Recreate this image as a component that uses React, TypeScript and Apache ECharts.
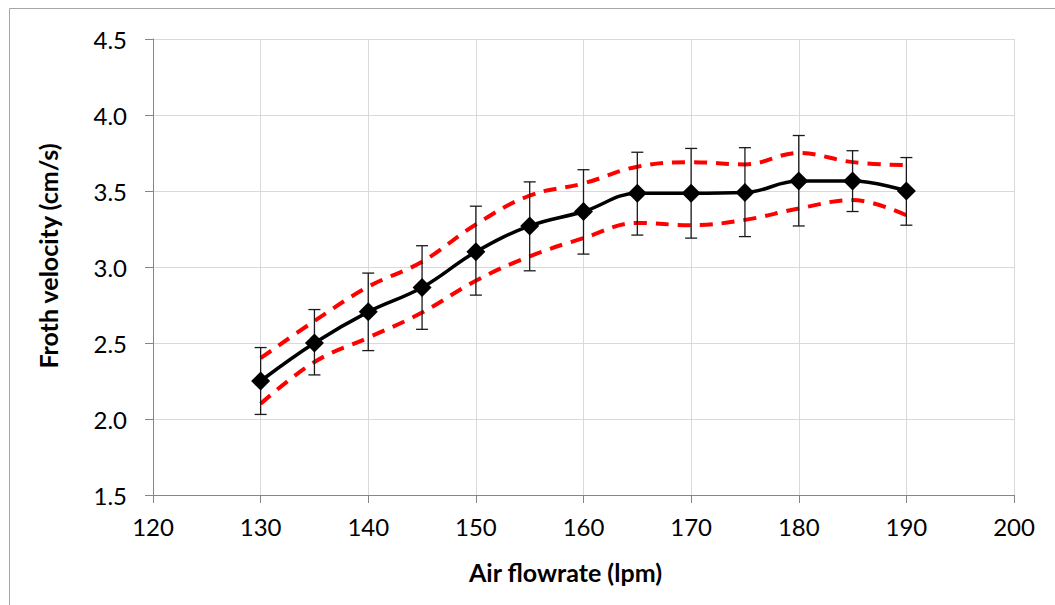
import React, { useEffect, useRef } from "react";
import * as echarts from "echarts";

const airFlow = [130, 135, 140, 145, 150, 155, 160, 165, 170, 175, 180, 185, 190];
const velocity = [2.25, 2.5, 2.705, 2.865, 3.1, 3.27, 3.365, 3.485, 3.485, 3.49, 3.565, 3.565, 3.5];
const errHigh = [2.47, 2.72, 2.96, 3.14, 3.4, 3.56, 3.64, 3.755, 3.78, 3.785, 3.865, 3.765, 3.72];
const errLow = [2.03, 2.29, 2.45, 2.59, 2.815, 2.975, 3.085, 3.21, 3.19, 3.2, 3.27, 3.365, 3.275];
const upperBand = [2.4, 2.645, 2.87, 3.035, 3.28, 3.47, 3.55, 3.66, 3.69, 3.675, 3.75, 3.69, 3.67];
const lowerBand = [2.1, 2.375, 2.535, 2.7, 2.91, 3.07, 3.19, 3.29, 3.275, 3.31, 3.385, 3.44, 3.34];

const FONT = "Lato";

export default function App() {
  const ref = useRef<HTMLDivElement>(null);
  useEffect(() => {
    if (!ref.current) return;
    const chart = echarts.init(ref.current, undefined, { renderer: "svg" });
    const pairs = (ys: number[]) => airFlow.map((x, i) => [x, ys[i]]);
    chart.setOption({
      animation: false,
      backgroundColor: "#ffffff",
      graphic: [
        {
          type: "rect",
          shape: { x: 9.5, y: 8.5, width: 1100, height: 700 },
          style: { fill: "none", stroke: "#a6a6a6", lineWidth: 1 },
          silent: true,
        },
      ],
      grid: { left: 153, right: 41, top: 39, bottom: 110 },
      xAxis: {
        type: "value",
        min: 120,
        max: 200,
        interval: 10,
        name: "Air flowrate (lpm)",
        nameLocation: "middle",
        nameGap: 64,
        nameTextStyle: {
          fontFamily: FONT,
          fontWeight: "bold",
          fontSize: 25,
          color: "#000",
          padding: [0, 36, 0, 0],
        },
        axisLine: { show: true, lineStyle: { color: "#868686", width: 1 } },
        axisTick: { show: true, inside: false, length: 8, lineStyle: { color: "#868686" } },
        axisLabel: { fontFamily: FONT, fontSize: 24, color: "#000", margin: 19 },
        splitLine: { show: true, lineStyle: { color: "#d9d9d9", width: 1 } },
      },
      yAxis: {
        type: "value",
        min: 1.5,
        max: 4.5,
        interval: 0.5,
        name: "Froth velocity (cm/s)",
        nameLocation: "middle",
        nameRotate: 90,
        nameGap: 93,
        nameTextStyle: {
          fontFamily: FONT,
          fontWeight: "bold",
          fontSize: 25,
          color: "#000",
          padding: [0, 0, 0, 22],
        },
        axisLine: { show: true, lineStyle: { color: "#868686", width: 1 } },
        axisTick: { show: true, inside: false, length: 8, lineStyle: { color: "#868686" } },
        axisLabel: {
          fontFamily: FONT,
          fontSize: 24,
          color: "#000",
          margin: 26,
          formatter: (v: number) => v.toFixed(1),
        },
        splitLine: { show: true, lineStyle: { color: "#d9d9d9", width: 1 } },
      },
      series: [
        {
          type: "line",
          name: "upper",
          data: pairs(upperBand),
          smooth: 0.4,
          symbol: "none",
          lineStyle: { color: "#ff0000", width: 4, type: [13, 9] },
          z: 2,
        },
        {
          type: "line",
          name: "lower",
          data: pairs(lowerBand),
          smooth: 0.4,
          symbol: "none",
          lineStyle: { color: "#ff0000", width: 4, type: [13, 9] },
          z: 2,
        },
        {
          type: "custom",
          name: "error",
          data: airFlow.map((x, i) => [x, errHigh[i], errLow[i]]),
          renderItem: (params: any, api: any) => {
            const x = api.value(0);
            const hi = api.coord([x, api.value(1)]);
            const lo = api.coord([x, api.value(2)]);
            const half = 6;
            const style = { stroke: "#1a1a1a", lineWidth: 1.3 };
            return {
              type: "group",
              children: [
                { type: "line", shape: { x1: hi[0], y1: hi[1], x2: lo[0], y2: lo[1] }, style },
                { type: "line", shape: { x1: hi[0] - half, y1: hi[1], x2: hi[0] + half, y2: hi[1] }, style },
                { type: "line", shape: { x1: lo[0] - half, y1: lo[1], x2: lo[0] + half, y2: lo[1] }, style },
              ],
            };
          },
          encode: { x: 0, y: [1, 2] },
          z: 3,
        },
        {
          type: "line",
          name: "velocity",
          data: pairs(velocity),
          smooth: 0.4,
          symbol: "diamond",
          symbolSize: 19,
          itemStyle: { color: "#000000" },
          lineStyle: { color: "#000000", width: 3.5 },
          z: 4,
        },
      ],
    });
    return () => chart.dispose();
  }, []);
  return (
    <div
      ref={ref}
      style={{ position: "fixed", left: 0, top: 0, width: 1055, height: 605 }}
    />
  );
}
